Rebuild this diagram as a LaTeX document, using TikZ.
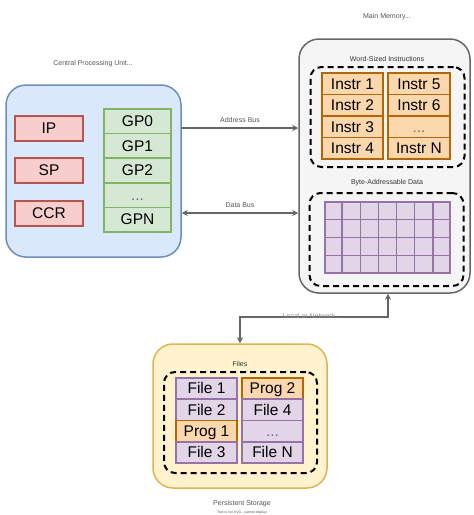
\documentclass[tikz,border=0pt]{standalone}
\usepackage{fontspec}
\setmainfont{Liberation Sans}
\usetikzlibrary{arrows.meta,calc}
\definecolor{cpuF}{HTML}{DAE8FC}\definecolor{cpuD}{HTML}{6C8EBF}
\definecolor{redF}{HTML}{F8CECC}\definecolor{redD}{HTML}{B85450}
\definecolor{grnF}{HTML}{D5E8D4}\definecolor{grnD}{HTML}{82B366}
\definecolor{orgF}{HTML}{FAD7AC}\definecolor{orgD}{HTML}{B46504}
\definecolor{purF}{HTML}{E1D5E7}\definecolor{purD}{HTML}{9673A6}
\definecolor{memF}{HTML}{F5F5F5}\definecolor{memD}{HTML}{666666}
\definecolor{yelF}{HTML}{FFF2CC}\definecolor{yelD}{HTML}{D6B656}
\definecolor{lblC}{HTML}{555555}
\tikzset{
  big/.style={draw, rounded corners=20pt, line width=1.5pt, inner sep=0pt},
  cell/.style={draw, line width=1.6pt, inner sep=0pt, font=\fontsize{15.5}{17}\selectfont, text=black, text height=11pt, text depth=0.5pt},
  regR/.style={cell, fill=redF, draw=redD, minimum width=68pt, minimum height=25pt},
  regG/.style={cell, fill=grnF, draw=grnD, minimum width=67pt, minimum height=24.6pt},
  insL/.style={cell, fill=orgF, draw=orgD, minimum height=21.5pt, minimum width=61pt},
  insR/.style={cell, fill=orgF, draw=orgD, minimum height=21.5pt, minimum width=62pt},
  fil/.style={cell, fill=purF, draw=purD, minimum width=61pt, minimum height=21.25pt},
  prg/.style={cell, fill=orgF, draw=orgD, minimum width=61pt, minimum height=21.25pt},
  dots/.style={text=black!55},
  grp/.style={draw=black, dash pattern=on 6pt off 4pt, line width=2pt, rounded corners=11pt, inner sep=0pt},
  small/.style={font=\fontsize{7}{8}\selectfont, text=lblC},
  conn/.style={draw=memD, line width=1.4pt},
  tip/.style={-{Stealth[length=6pt,width=6pt]}},
  tips/.style={{Stealth[length=6pt,width=6pt]}-{Stealth[length=6pt,width=6pt]}}
}
\begin{document}
\begin{tikzpicture}[x=1pt,y=-1pt]
\useasboundingbox (0,0) rectangle (474,515);
% CPU
\node[big, fill=cpuF, draw=cpuD, minimum width=175pt, minimum height=172pt] (cpu) at (93.5,171) {};
\node[small] (cpulbl) at (93,64) {Central Processing Unit...};
\node[regR] (ip) at (49,128.5) {IP};
\node[regR] (sp) at (49,170.5) {SP};
\node[regR] (ccr) at (49,213.5) {CCR};
\node[regG] (gp0) at (137.5,121.3) {GP0};
\node[regG] (gp1) at (137.5,145.9) {GP1};
\node[regG] (gp2) at (137.5,170.5) {GP2};
\node[regG, dots] (gpd) at (137.5,195.1) {...};
\node[regG] (gpn) at (137.5,219.7) {GPN};
% Main memory
\node[big, fill=memF, draw=memD, minimum width=171pt, minimum height=254pt] (mem) at (384.5,166) {};
\node[small] (memlbl) at (387,17) {Main Memory...};
\node[small, text=black!80] (wlbl) at (387,59) {Word-Sized Instructions};
\node[grp, minimum width=154pt, minimum height=100pt] (igrp) at (387.5,117) {};
\node[insL] (i1) at (352.5,83.75) {Instr 1};
\node[insL] (i2) at (352.5,105.25) {Instr 2};
\node[insL] (i3) at (352.5,126.75) {Instr 3};
\node[insL] (i4) at (352.5,148.25) {Instr 4};
\node[insR] (i5) at (419,83.75) {Instr 5};
\node[insR] (i6) at (419,105.25) {Instr 6};
\node[insR, dots] (i7) at (419,126.75) {...};
\node[insR] (i8) at (419,148.25) {Instr N};
\node[small, text=black!80] (blbl) at (387,183) {Byte-Addressable Data};
\node[grp, minimum width=154pt, minimum height=93pt] (dgrp) at (386.5,239.5) {};
\node[draw=purD, fill=purF, line width=1.6pt, minimum width=125pt, minimum height=71pt, inner sep=0pt] (grid) at (387.5,237.5) {};
\foreach \i in {1,2,3,4,5,6}
  \draw[draw=purD, line width=1.6pt] ($(grid.north west)!\i/7!(grid.north east)$) -- ($(grid.south west)!\i/7!(grid.south east)$);
\foreach \j in {1,2,3}
  \draw[draw=purD, line width=1.6pt] ($(grid.north west)!\j/4!(grid.south west)$) -- ($(grid.north east)!\j/4!(grid.south east)$);
% Buses
\coordinate (ab) at (0,128);
\coordinate (db) at (0,213);
\draw[conn, tip] (cpu.east |- ab) -- node[small, above=1pt] (ablbl) {Address Bus} (mem.west |- ab);
\draw[conn, tips] (cpu.east |- db) -- node[small, above=1pt] (dblbl) {Data Bus} (mem.west |- db);
% Storage
\node[big, fill=yelF, draw=yelD, minimum width=174pt, minimum height=144pt] (sto) at (240,416) {};
\node[small, text=black!80] (flbl) at (240,364) {Files};
\node[grp, minimum width=153pt, minimum height=101pt] (fgrp) at (240.5,422.5) {};
\node[fil] (f1) at (206.5,388.6) {File 1};
\node[fil] (f2) at (206.5,409.9) {File 2};
\node[prg] (p1) at (206.5,431.1) {Prog 1};
\node[fil] (f3) at (206.5,452.4) {File 3};
\node[prg] (p2) at (272.5,388.6) {Prog 2};
\node[fil] (f4) at (272.5,409.9) {File 4};
\node[fil, dots] (fd) at (272.5,431.1) {...};
\node[fil] (fn) at (272.5,452.4) {File N};
\node[small] (slbl) at (242,504) {Persistent Storage};
\node[font=\fontsize{3.5}{4}\selectfont, text=lblC] (tlbl) at (242,512.5) {Text is not SVG - cannot display};
% Local or network
\coordinate (ln) at (388,317);
\draw[conn, tips] (sto.north) -- (sto.north |- ln) -- (ln) -- (ln |- mem.south);
\node[small, text=black!45] (lnlbl) at (312,316) {Local or Network...};
\end{tikzpicture}
\end{document}
